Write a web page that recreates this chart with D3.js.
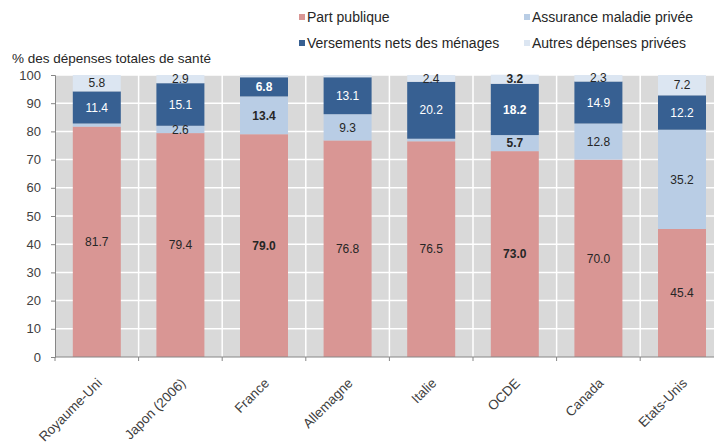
<!DOCTYPE html>
<html>
<head>
<meta charset="utf-8">
<style>
  body { margin: 0; background: #fff; }
  svg { display: block; font-family: "Liberation Sans", Arial, sans-serif; }
</style>
</head>
<body>
<script src="https://cdn.jsdelivr.net/npm/d3@7/dist/d3.min.js"></script>
<script>

  // values (% of total health spending)
  const categories = ["Royaume-Uni", "Japon (2006)", "France", "Allemagne", "Italie", "OCDE", "Canada", "Etats-Unis"]
  const partPublique = [81.7, 79.4, 79.0, 76.8, 76.5, 73.0, 70.0, 45.4]
  const assurancePrivee = [1.1, 2.6, 13.4, 9.3, 0.9, 5.7, 12.8, 35.2]
  const versementsMenages = [11.4, 15.1, 6.8, 13.1, 20.2, 18.2, 14.9, 12.2]
  const autresPrivees = [5.8, 2.9, 0.8, 0.8, 2.4, 3.2, 2.3, 7.2]
  const seriesNames = ["Part publique", "Assurance maladie privée", "Versements nets des ménages", "Autres dépenses privées"]
  const yTicks = [0, 10, 20, 30, 40, 50, 60, 70, 80, 90, 100]
  const boldCategories = ["France", "OCDE"]

  const width = 714, height = 443
  const margin = {left: 55, top: 75, bottom: 86}
  const step = 83.6

  const colors = ['#d99694', '#b9cde5', '#376092', '#dce6f2']
  const labelColors = ['#262626', '#262626', '#ffffff', '#262626']

  const table = categories.map((c, i) => ({
    cat: c,
    s0: partPublique[i], s1: assurancePrivee[i], s2: versementsMenages[i], s3: autresPrivees[i]
  }))
  const keys = ['s0', 's1', 's2', 's3']
  const stacked = d3.stack().keys(keys)(table)

  const xScale = d3.scaleBand()
    .domain(categories)
    .range([margin.left, margin.left + step * categories.length])
    .paddingInner(0.426)
    .paddingOuter(0.213)
  const yScale = d3.scaleLinear()
    .domain([0, 100])
    .range([height - margin.bottom, margin.top])

  const svg = d3.select("body").append("svg")
      .attr("width", width)
      .attr("height", height)

  // plot background
  svg.append("rect")
      .attr("x", margin.left)
      .attr("y", yScale(100))
      .attr("width", step * categories.length)
      .attr("height", yScale(0) - yScale(100))
      .style("fill", "#d9d9d9")

  // white grid
  svg.append("g").selectAll("line")
    .data(yTicks.slice(1))
    .enter().append("line")
      .attr("x1", margin.left).attr("x2", margin.left + step * categories.length)
      .attr("y1", d => yScale(d)).attr("y2", d => yScale(d))
      .style("stroke", "#fff").style("stroke-width", 1.5)
  svg.append("g").selectAll("line")
    .data(d3.range(1, categories.length + 1))
    .enter().append("line")
      .attr("x1", d => margin.left + d * step).attr("x2", d => margin.left + d * step)
      .attr("y1", yScale(0)).attr("y2", yScale(100))
      .style("stroke", "#fff").style("stroke-width", 1.5)

  // bars
  const layers = svg.append("g").selectAll("g")
    .data(stacked)
    .enter().append("g")
      .style("fill", (d, i) => colors[i])
  layers.selectAll("rect")
    .data(d => d)
    .enter().append("rect")
      .attr("x", d => xScale(d.data.cat))
      .attr("y", d => yScale(d[1]))
      .attr("width", xScale.bandwidth())
      .attr("height", d => yScale(d[0]) - yScale(d[1]))

  // value labels
  stacked.forEach((layer, li) => {
    svg.append("g").selectAll("text")
      .data(layer.filter(d => d[1] - d[0] >= 2))
      .enter().append("text")
        .attr("x", d => xScale(d.data.cat) + xScale.bandwidth() / 2)
        .attr("y", d => yScale((d[0] + d[1]) / 2))
        .attr("dy", "0.35em")
        .style("text-anchor", "middle")
        .style("font-size", "12px")
        .style("font-weight", d => boldCategories.includes(d.data.cat) ? "bold" : "normal")
        .style("fill", labelColors[li])
        .text(d => (d[1] - d[0]).toFixed(1))
  })

  // y axis
  const gY = svg.append("g")
      .attr("transform", `translate(${margin.left}, 0)`)
    .call(d3.axisLeft(yScale).tickValues(yTicks).tickSize(4).tickPadding(10))
  gY.select(".domain").style("stroke", "#868686")
  gY.selectAll(".tick line").style("stroke", "#868686")
  gY.selectAll("text").style("font-size", "13px").style("fill", "#404040")
    .style("font-family", "Liberation Sans, Arial, sans-serif")

  // x axis: ticks on category boundaries
  const xLine = svg.append("g")
  xLine.append("line")
      .attr("x1", margin.left).attr("x2", margin.left + step * categories.length)
      .attr("y1", yScale(0)).attr("y2", yScale(0))
      .style("stroke", "#868686")
  xLine.selectAll(".bt")
    .data(d3.range(0, categories.length + 1))
    .enter().append("line")
      .attr("x1", d => margin.left + d * step).attr("x2", d => margin.left + d * step)
      .attr("y1", yScale(0)).attr("y2", yScale(0) + 4)
      .style("stroke", "#868686")
  xLine.selectAll("text")
    .data(categories)
    .enter().append("text")
      .attr("transform", d => `translate(${xScale(d) + xScale.bandwidth() / 2 + 6}, ${yScale(0) + 27}) rotate(-45)`)
      .style("text-anchor", "end")
      .style("font-size", "13.5px")
      .style("fill", "#404040")
      .text(d => d)

  // axis title
  svg.append("text")
      .attr("x", 12)
      .attr("y", 63)
      .style("font-size", "13.5px")
      .style("fill", "#262626")
      .text("% des dépenses totales de santé")

  // legend
  const legendPos = [[299, 17], [524, 17], [299, 43], [524, 43]]
  const legend = svg.append("g").selectAll("g")
    .data(seriesNames)
    .enter().append("g")
      .attr("transform", (d, i) => `translate(${legendPos[i][0]}, ${legendPos[i][1]})`)
  legend.append("rect")
      .attr("x", 0).attr("y", -3)
      .attr("width", 6).attr("height", 6)
      .style("fill", (d, i) => colors[i])
  legend.append("text")
      .attr("x", 8)
      .attr("dy", "0.35em")
      .style("font-size", "14px")
      .style("fill", "#262626")
      .text(d => d)

</script>
</body>
</html>
